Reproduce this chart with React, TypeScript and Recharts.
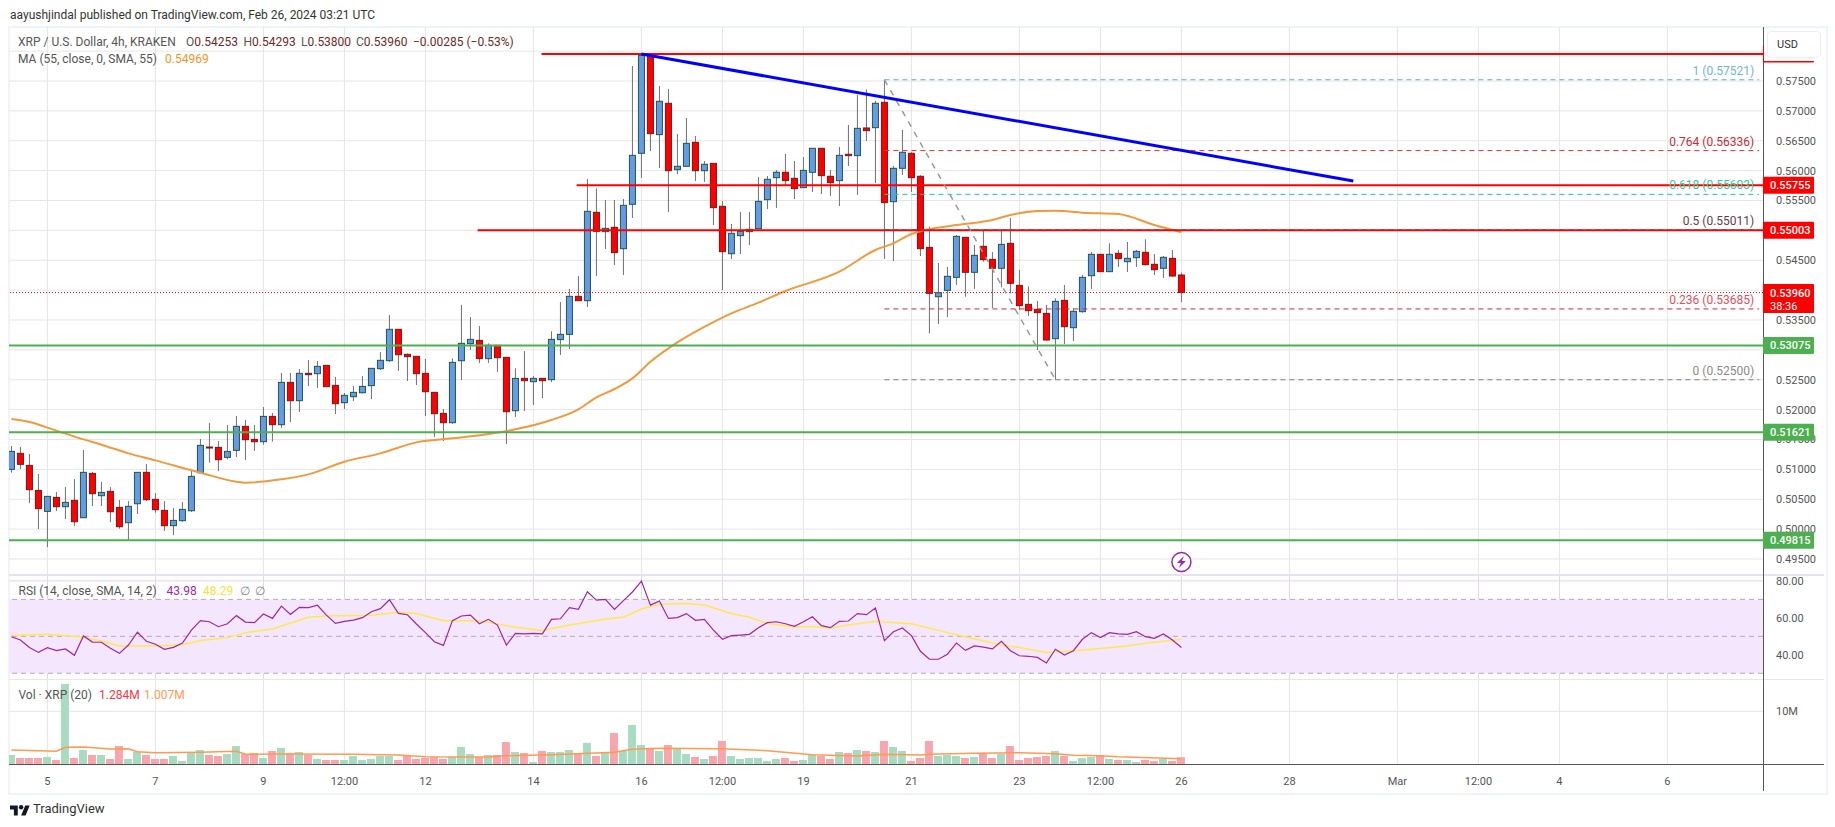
import {
  ComposedChart, Bar, Line, XAxis, YAxis, CartesianGrid,
  ReferenceLine, ReferenceArea, ReferenceDot, Cell,
} from 'recharts'

const opens = [
  0.51000, 0.51268, 0.51067, 0.50648, 0.50297, 0.50531, 0.50375, 0.50481, 0.50191, 0.50933, 0.50559, 0.50632, 0.50364, 0.50107, 0.50425,
  0.50950, 0.50498, 0.50314, 0.50057, 0.50141, 0.50308, 0.50944, 0.51374, 0.51368, 0.51201, 0.51318, 0.51720, 0.51502, 0.51463, 0.51887,
  0.51748, 0.52456, 0.52149, 0.52607, 0.52601, 0.52741, 0.52406, 0.52116, 0.52216, 0.52283, 0.52401, 0.52685, 0.52819, 0.53344, 0.52925,
  0.52892, 0.52607, 0.52289, 0.51937, 0.51781, 0.52819, 0.53104, 0.53159, 0.52853, 0.53076, 0.52875, 0.51982, 0.52523, 0.52467, 0.52523,
  0.52501, 0.53171, 0.53260, 0.53896, 0.53823, 0.55302, 0.54979, 0.55051, 0.54694, 0.55436, 0.56290, 0.57930, 0.56602, 0.57127, 0.56016,
  0.56072, 0.56474, 0.55999, 0.56122, 0.55403, 0.54610, 0.54912, 0.54979, 0.55029, 0.55514, 0.55882, 0.55972, 0.55871, 0.55715, 0.55972,
  0.56374, 0.55905, 0.55832, 0.56273, 0.56251, 0.56714, 0.56719, 0.57144, 0.55481, 0.56039, 0.56290, 0.55905, 0.54716, 0.53890, 0.53996,
  0.54214, 0.54884, 0.54298, 0.54733, 0.54515, 0.54365, 0.54783, 0.54080, 0.53762, 0.53678, 0.53611, 0.53187, 0.53829, 0.53371, 0.53639,
  0.54242, 0.54599, 0.54309, 0.54616, 0.54476, 0.54543, 0.54633, 0.54432, 0.54365, 0.54532, 0.54253,
]
const highs = [
  0.51391, 0.51374, 0.51257, 0.50922, 0.50548, 0.50620, 0.50704, 0.50838, 0.51324, 0.50955, 0.50788, 0.50704, 0.50487, 0.50470, 0.50950,
  0.51089, 0.50604, 0.50470, 0.50353, 0.50453, 0.50983, 0.51508, 0.51776, 0.51474, 0.51742, 0.51893, 0.51826, 0.51742, 0.52043, 0.51943,
  0.52613, 0.52613, 0.52680, 0.52830, 0.52813, 0.52741, 0.52546, 0.52278, 0.52395, 0.52562, 0.52691, 0.52964, 0.53583, 0.53344, 0.52942,
  0.52892, 0.52847, 0.52289, 0.52010, 0.52858, 0.53751, 0.53550, 0.53399, 0.53109, 0.53076, 0.52875, 0.52691, 0.52981, 0.52562, 0.52529,
  0.53310, 0.53801, 0.54019, 0.54236, 0.55860, 0.55704, 0.55509, 0.55509, 0.55525, 0.57752, 0.57953, 0.57953, 0.57417, 0.57367, 0.56613,
  0.56881, 0.56580, 0.56161, 0.56122, 0.55492, 0.55107, 0.55308, 0.55308, 0.55894, 0.55910, 0.56011, 0.56279, 0.56161, 0.56228, 0.56374,
  0.56374, 0.56011, 0.56396, 0.56764, 0.57266, 0.57361, 0.57166, 0.57521, 0.56078, 0.56680, 0.56307, 0.55922, 0.55062, 0.54454, 0.54387,
  0.54923, 0.54889, 0.54755, 0.55006, 0.54638, 0.55006, 0.55207, 0.54337, 0.54063, 0.53818, 0.53751, 0.53862, 0.54086, 0.53695, 0.54253,
  0.54638, 0.54599, 0.54783, 0.54672, 0.54806, 0.54672, 0.54850, 0.54605, 0.54571, 0.54672, 0.54293,
]
const lows = [
  0.50944, 0.51006, 0.50436, 0.50001, 0.49700, 0.50302, 0.50169, 0.50051, 0.50191, 0.50386, 0.50386, 0.50118, 0.50007, 0.49817, 0.50252,
  0.50470, 0.50275, 0.49968, 0.49901, 0.50124, 0.50286, 0.50944, 0.51112, 0.50972, 0.51167, 0.51206, 0.51156, 0.51307, 0.51413, 0.51463,
  0.51692, 0.51792, 0.51960, 0.52395, 0.52361, 0.52384, 0.51926, 0.52010, 0.52144, 0.52272, 0.52177, 0.52663, 0.52802, 0.52646, 0.52479,
  0.52412, 0.51893, 0.51541, 0.51474, 0.51764, 0.52495, 0.52998, 0.52780, 0.52780, 0.52629, 0.51424, 0.51876, 0.51976, 0.52077, 0.52194,
  0.52462, 0.52914, 0.53014, 0.53823, 0.53717, 0.54236, 0.54688, 0.54421, 0.54253, 0.55207, 0.55877, 0.56329, 0.56044, 0.55308, 0.55944,
  0.56072, 0.55827, 0.55810, 0.55090, 0.54002, 0.54521, 0.54605, 0.54755, 0.55029, 0.55358, 0.55375, 0.55760, 0.55525, 0.55715, 0.55643,
  0.55609, 0.55576, 0.55408, 0.56078, 0.55592, 0.56496, 0.55793, 0.54521, 0.54487, 0.55927, 0.55643, 0.54571, 0.53277, 0.53433, 0.53550,
  0.54086, 0.53890, 0.54019, 0.54476, 0.53701, 0.54047, 0.53946, 0.53667, 0.53567, 0.52998, 0.53154, 0.52500, 0.53098, 0.53148, 0.53623,
  0.54019, 0.54309, 0.54309, 0.54387, 0.54303, 0.54387, 0.54415, 0.54253, 0.54203, 0.54220, 0.53800,
]
const closes = [
  0.51301, 0.51084, 0.50660, 0.50342, 0.50548, 0.50375, 0.50448, 0.50124, 0.50950, 0.50593, 0.50615, 0.50291, 0.50040, 0.50381, 0.50950,
  0.50492, 0.50325, 0.50057, 0.50146, 0.50330, 0.50883, 0.51402, 0.51363, 0.51162, 0.51301, 0.51720, 0.51497, 0.51463, 0.51887, 0.51748,
  0.52456, 0.52149, 0.52607, 0.52585, 0.52724, 0.52384, 0.52099, 0.52239, 0.52289, 0.52389, 0.52691, 0.52825, 0.53344, 0.52919, 0.52886,
  0.52601, 0.52300, 0.51932, 0.51781, 0.52791, 0.53109, 0.53176, 0.52853, 0.53076, 0.52869, 0.51965, 0.52523, 0.52484, 0.52523, 0.52484,
  0.53176, 0.53260, 0.53896, 0.53823, 0.55319, 0.54984, 0.55034, 0.54627, 0.55419, 0.56256, 0.57930, 0.56619, 0.57160, 0.55999, 0.56072,
  0.56457, 0.55999, 0.56106, 0.55380, 0.54644, 0.54951, 0.54984, 0.55018, 0.55486, 0.55855, 0.55972, 0.55832, 0.55698, 0.56005, 0.56374,
  0.55916, 0.55799, 0.56256, 0.56251, 0.56708, 0.56669, 0.57127, 0.55464, 0.56039, 0.56307, 0.55882, 0.54694, 0.53946, 0.53957, 0.54231,
  0.54900, 0.54298, 0.54582, 0.54510, 0.54365, 0.54766, 0.54114, 0.53740, 0.53656, 0.53623, 0.53165, 0.53812, 0.53388, 0.53645, 0.54214,
  0.54599, 0.54309, 0.54599, 0.54527, 0.54532, 0.54649, 0.54426, 0.54342, 0.54549, 0.54236, 0.53960,
]

// moving averages are read at a handful of candles, the line joins them
const maAt = [0, 2, 5, 8, 10, 13, 16, 21, 25, 26, 30, 33, 37, 41, 45, 49, 53, 56, 60, 63, 65, 67, 69, 71, 74, 78, 80, 83, 86, 92, 96, 98, 100, 105, 109, 111, 114, 116, 119, 123, 127, 130]
const maValues = [
  0.51843, 0.51792, 0.51647, 0.51502, 0.51413, 0.51268, 0.51151, 0.50944, 0.50794, 0.50777, 0.50833, 0.50916, 0.51128, 0.51268,
  0.51452, 0.51519, 0.51591, 0.51670, 0.51826, 0.52004, 0.52205, 0.52345, 0.52523, 0.52802, 0.53126, 0.53466, 0.53611, 0.53790,
  0.53985, 0.54309, 0.54672, 0.54783, 0.54939, 0.55090, 0.55174, 0.55258, 0.55324, 0.55330, 0.55297, 0.55274, 0.55090, 0.54969,
]

const rsi = [
  49.8, 48.0, 44.0, 41.3, 43.9, 42.3, 43.2, 39.7, 50.2, 46.9, 46.8, 43.5, 40.8, 45.3, 52.2, 47.3, 45.7, 43.0, 44.0, 46.4,
  53.4, 58.5, 57.9, 55.2, 56.8, 61.2, 57.7, 57.4, 62.1, 59.7, 66.4, 61.9, 65.7, 65.5, 66.8, 61.5, 57.0, 58.1, 58.8, 60.1,
  63.3, 65.0, 69.8, 62.4, 61.7, 56.7, 52.0, 47.1, 45.1, 58.5, 61.0, 61.5, 56.8, 59.2, 56.1, 45.3, 51.6, 51.3, 51.6, 51.3,
  59.2, 59.5, 65.5, 64.6, 74.1, 69.6, 70.0, 64.6, 69.3, 74.0, 79.9, 66.9, 69.1, 59.7, 60.1, 62.3, 58.7, 59.2, 53.4, 48.4,
  50.4, 50.7, 51.1, 54.7, 57.4, 57.9, 56.8, 55.4, 57.9, 60.6, 55.8, 54.7, 58.1, 58.3, 62.3, 61.7, 65.3, 47.7, 52.5, 54.5,
  50.4, 41.9, 37.6, 37.6, 40.3, 46.4, 42.4, 44.8, 44.2, 43.2, 47.3, 42.2, 39.5, 39.2, 38.6, 35.6, 43.0, 39.9, 42.2, 48.4,
  52.0, 49.3, 52.0, 51.3, 51.1, 52.5, 49.8, 48.9, 51.3, 48.0, 43.98,
]
const rsiMaAt = [0, 4, 8, 10, 12, 16, 19, 21, 24, 26, 29, 33, 35, 40, 43, 45, 48, 52, 56, 59, 62, 66, 68, 70, 72, 75, 77, 80, 82, 84, 87, 89, 91, 93, 96, 100, 104, 106, 110, 112, 115, 118, 124, 127, 130]
const rsiMaValues = [
  50.4, 51.1, 49.5, 47.5, 44.8, 44.8, 45.5, 47.7, 49.3, 52.0, 54.0, 60.3, 61.0, 61.4, 63.0, 62.4, 58.5, 58.5, 54.9, 53.1, 56.1, 59.4, 60.3,
  64.8, 67.3, 67.8, 66.9, 62.4, 60.3, 57.0, 55.2, 55.2, 54.5, 56.1, 58.1, 56.8, 52.0, 49.8, 45.3, 44.0, 41.3, 42.1, 44.8, 46.9, 48.29,
]

// volume in millions
const volume = [
  1.71, 1.14, 1.14, 1.14, 1.33, 0.76, 15.19, 1.14, 2.66, 1.71, 1.71, 0.95, 3.42, 0.95, 2.34, 1.71, 0.95, 0.95, 1.52, 0.57,
  2.28, 2.66, 1.71, 1.52, 1.90, 3.42, 1.90, 2.09, 1.14, 2.47, 3.04, 2.09, 2.28, 1.71, 0.95, 0.76, 0.76, 0.76, 1.52, 0.76,
  0.95, 1.52, 1.52, 0.76, 1.71, 0.95, 1.14, 1.33, 0.95, 1.33, 3.23, 1.90, 1.33, 1.71, 1.71, 4.18, 2.28, 2.09, 0.38, 2.47,
  2.28, 2.28, 2.66, 1.90, 3.99, 1.52, 2.28, 5.89, 2.47, 7.41, 3.61, 2.85, 2.47, 3.61, 2.85, 1.90, 1.33, 0.95, 1.52, 4.37,
  1.52, 0.95, 1.14, 1.14, 0.57, 0.95, 1.14, 0.57, 0.76, 1.71, 1.52, 0.95, 2.28, 2.09, 2.66, 2.47, 2.28, 4.37, 3.23, 2.47,
  0.57, 1.14, 4.37, 1.52, 1.71, 1.52, 1.14, 1.33, 2.09, 1.14, 1.90, 3.42, 0.76, 1.14, 1.33, 1.52, 2.47, 1.52, 0.57, 1.14,
  1.33, 1.71, 0.95, 0.76, 0.76, 0.38, 0.76, 0.57, 0.95, 0.57, 1.284,
]
const volMaAt = [0, 5, 6, 8, 11, 13, 14, 16, 21, 25, 26, 30, 38, 43, 46, 53, 55, 60, 67, 69, 72, 79, 84, 89, 94, 97, 101, 102, 107, 112, 116, 118, 121, 123, 130]
const volMaValues = [2.66, 2.41, 3.16, 3.23, 2.85, 2.91, 2.34, 2.15, 2.22, 2.41, 1.84, 1.90, 1.84, 1.71, 1.39, 1.33, 1.58, 1.77, 2.22, 2.78, 2.97, 2.91, 2.53, 1.77, 1.52, 1.84, 1.71, 1.84, 2.03, 2.15, 1.96, 1.65, 1.58, 1.39, 1.007]

const timeTicks = [4, 16, 28, 37, 46, 58, 70, 79, 88, 100, 112, 121, 130, 142, 154, 163, 172, 184]
const timeLabels = ['5', '7', '9', '12:00', '12', '14', '16', '12:00', '19', '21', '23', '12:00', '26', '28', 'Mar', '12:00', '4', '6']
const priceGrid = [0.495, 0.5, 0.505, 0.51, 0.515, 0.52, 0.525, 0.53, 0.535, 0.54, 0.545, 0.55, 0.555, 0.56, 0.565, 0.57, 0.575, 0.58]
// the labels at 0.53, 0.54, 0.55 and 0.58 sit fully behind the price tags and the USD button
const priceLabels = [0.495, 0.5, 0.505, 0.51, 0.515, 0.52, 0.525, 0.535, 0.545, 0.555, 0.56, 0.565, 0.57, 0.575]
const rsiTicks = [40, 60, 80]
const rsiBands = [70, 50, 30]

const resistance = [
  { from: 58.9, price: 0.57952 },
  { from: 62.8, price: 0.55755 },
  { from: 51.8, price: 0.55003 },
]
const support = [0.53075, 0.51621, 0.49815]
const fibLevels = [
  { name: '1', price: 0.57521, line: '#64a8d8', text: '#6fb4e0' },
  { name: '0.764', price: 0.56336, line: '#ff2b2b', text: '#c62b3c' },
  { name: '0.618', price: 0.55603, line: '#14d095', text: '#2fc99b' },
  { name: '0.5', price: 0.55011, line: '#7a4a5a', text: '#604050' },
  { name: '0.236', price: 0.53685, line: '#c8283c', text: '#e0505e' },
  { name: '0', price: 0.525, line: '#808080', text: '#8a8a8a' },
]

const FONT = 'Roboto, sans-serif'
const GRID = '#e6e6e6'
const BLUE = '#6699e8'
const RED = '#ff0000'
const GREEN = '#4caf50'
const X_DOMAIN: [number, number] = [-0.27, 194.62]
const PRICE_DOMAIN: [number, number] = [0.49232, 0.58404]

const pick = (at: number[], values: number[], i: number) => {
  const k = at.indexOf(i)
  return k >= 0 ? values[k] : null
}

const rows = opens.map((open, i) => ({
  i,
  open,
  high: highs[i],
  low: lows[i],
  close: closes[i],
  range: [lows[i], highs[i]],
  ma: pick(maAt, maValues, i),
  rsi: rsi[i],
  rsiMa: pick(rsiMaAt, rsiMaValues, i),
  volume: volume[i],
  volMa: pick(volMaAt, volMaValues, i),
}))

function Candle(props: any) {
  const { x, y, width, height, payload } = props
  const d = payload ?? props
  const perUnit = height / (d.high - d.low)
  const up = d.close >= d.open
  const top = y + (d.high - Math.max(d.open, d.close)) * perUnit
  const bodyH = Math.max(Math.abs(d.close - d.open) * perUnit, 1)
  const cx = x + width / 2
  return (
    <g>
      <line x1={cx} x2={cx} y1={y} y2={y + height} stroke="#707070" strokeWidth={1} />
      <rect
        x={x + 0.5} y={top} width={width - 1} height={bodyH}
        fill={up ? BLUE : RED} stroke={up ? '#1d5a40' : '#7c1416'} strokeWidth={1}
      />
    </g>
  )
}

function Tag({ cx, cy, color, text, sub }: any) {
  return (
    <g>
      <rect x={cx} y={cy - 8.5} width={51} height={sub ? 29 : 17} rx={1} fill={color} />
      <text x={cx + 7} y={cy + 4} fill="#fff" fontSize={11} fontWeight={500} fontFamily={FONT}>{text}</text>
      {sub && <text x={cx + 7} y={cy + 17} fill="#fff" fontSize={11} fontFamily={FONT}>{sub}</text>}
    </g>
  )
}

function Bolt({ cx, cy }: any) {
  return (
    <g>
      <circle cx={cx} cy={cy} r={9.5} fill="#fff" stroke="#9c27b0" strokeWidth={1.5} />
      <path d={`M${cx + 2.5} ${cy - 6}L${cx - 4.5} ${cy + 1}H${cx - 0.5}L${cx - 2.5} ${cy + 6}L${cx + 4.5} ${cy - 1}H${cx + 0.5}Z`} fill="#9c27b0" />
    </g>
  )
}

function Price({ x, y, children, color = '#555', size = 12 }: any) {
  return (
    <span style={{ position: 'absolute', left: x, top: y - 8, lineHeight: '16px', fontSize: size, color, whiteSpace: 'nowrap' }}>
      {children}
    </span>
  )
}

const xAxisFormat = (v: number) => timeLabels[timeTicks.indexOf(v)] ?? ''

export default function App() {
  return (
    <div style={{ position: 'absolute', left: 0, top: 0, width: 1835, height: 827, background: '#fff', fontFamily: FONT, overflow: 'hidden' }}>
      <Price x={10} y={15} color="#333">aayushjindal published on TradingView.com, Feb 26, 2024 03:21 UTC</Price>

      {/* outer frame */}
      <div style={{ position: 'absolute', left: 8, top: 26, width: 1816, height: 765, border: '2px solid #f0f3fa' }} />

      <div style={{ position: 'absolute', left: 9, top: 27 }}>
        <ComposedChart width={1817} height={548} data={rows} margin={{ top: 0, right: 0, bottom: 0, left: 0 }}>
          <XAxis dataKey="i" type="number" domain={X_DOMAIN} ticks={timeTicks} allowDataOverflow hide />
          <YAxis
            orientation="right" width={63} domain={PRICE_DOMAIN} ticks={priceLabels} allowDataOverflow
            axisLine={false} tickLine={false} tickMargin={7}
            tick={{ fill: '#555', fontSize: 11, fontFamily: FONT }} tickFormatter={(v: number) => v.toFixed(5)}
          />
          <CartesianGrid stroke={GRID} verticalValues={timeTicks} horizontalValues={priceGrid} />
          <Bar dataKey="range" barSize={7} shape={<Candle />} isAnimationActive={false} />
          <Line dataKey="ma" stroke="#ef9a3e" strokeWidth={2} dot={false} connectNulls type="monotone" isAnimationActive={false} />

          <ReferenceLine y={0.5396} stroke={RED} strokeWidth={1} strokeDasharray="1 2" />
          {support.map(p => <ReferenceLine key={p} y={p} stroke={GREEN} strokeWidth={2} />)}
          {resistance.map(r => (
            <ReferenceLine key={r.price} segment={[{ x: r.from, y: r.price }, { x: X_DOMAIN[1], y: r.price }]} stroke={RED} strokeWidth={2} />
          ))}
          <ReferenceLine segment={[{ x: 97, y: 0.57521 }, { x: 116, y: 0.525 }]} stroke="#999" strokeWidth={1.5} strokeDasharray="6 6" />
          {fibLevels.map(f => (
            <ReferenceLine
              key={f.name}
              segment={[{ x: 97, y: f.price }, { x: 194.2, y: f.price }]}
              stroke={f.line}
              strokeWidth={1}
              strokeDasharray="5 4"
              label={{ value: `${f.name} (${f.price.toFixed(5)})`, position: 'insideBottomRight', offset: 5, fill: f.text, fontSize: 12, fontFamily: FONT }}
            />
          ))}
          <ReferenceLine segment={[{ x: 70, y: 0.57952 }, { x: 149.1, y: 0.55826 }]} stroke="#0000ff" strokeWidth={3} />
          <ReferenceDot x={130} y={0.4945} shape={<Bolt />} ifOverflow="visible" />
        </ComposedChart>
      </div>

      <div style={{ position: 'absolute', left: 9, top: 575 }}>
        <ComposedChart width={1817} height={104} data={rows} margin={{ top: 0, right: 0, bottom: 0, left: 0 }}>
          <XAxis dataKey="i" type="number" domain={X_DOMAIN} ticks={timeTicks} allowDataOverflow hide />
          <YAxis
            orientation="right" width={63} domain={[26.9, 83.2]} ticks={rsiTicks} allowDataOverflow
            axisLine={false} tickLine={false} tickMargin={7}
            tick={{ fill: '#555', fontSize: 11, fontFamily: FONT }} tickFormatter={(v: number) => v.toFixed(2)}
          />
          <ReferenceArea y1={30} y2={70} fill="#f4e6fd" fillOpacity={1} stroke="none" />
          <CartesianGrid stroke="#e2d6ea" verticalValues={timeTicks} horizontalValues={rsiTicks} />
          {rsiBands.map(b => <ReferenceLine key={b} y={b} stroke="#b8a8c2" strokeDasharray="5 4" />)}
          <Line dataKey="rsiMa" stroke="#ffe94d" strokeWidth={1.5} dot={false} connectNulls isAnimationActive={false} />
          <Line dataKey="rsi" stroke="#9c27a0" strokeWidth={1.2} dot={false} isAnimationActive={false} />
        </ComposedChart>
      </div>

      <div style={{ position: 'absolute', left: 9, top: 679 }}>
        <ComposedChart width={1817} height={113} data={rows} margin={{ top: 0, right: 0, bottom: 0, left: 0 }}>
          <XAxis
            dataKey="i" type="number" domain={X_DOMAIN} ticks={timeTicks} allowDataOverflow interval={0} height={28}
            axisLine={false} tickLine={false} tickMargin={7}
            tick={{ fill: '#555', fontSize: 11, fontFamily: FONT }} tickFormatter={xAxisFormat}
          />
          <YAxis
            orientation="right" width={63} domain={[0, 16.13]} ticks={[10]} allowDataOverflow
            axisLine={false} tickLine={false} tickMargin={7}
            tick={{ fill: '#555', fontSize: 11, fontFamily: FONT }} tickFormatter={(v: number) => `${v}M`}
          />
          <CartesianGrid stroke={GRID} verticalValues={timeTicks} horizontalValues={[10]} />
          <Bar dataKey="volume" barSize={8} isAnimationActive={false}>
            {rows.map(r => <Cell key={r.i} fill={r.close >= r.open ? '#a8dbc2' : '#f6a6ac'} />)}
          </Bar>
          <Line dataKey="volMa" stroke="#ff9a50" strokeWidth={1.5} dot={false} connectNulls isAnimationActive={false} />
        </ComposedChart>
      </div>

      {/* pane separators and axis borders */}
      <div style={{ position: 'absolute', left: 9, top: 574, width: 1815, height: 2, background: '#e6e3ee' }} />
      <div style={{ position: 'absolute', left: 9, top: 679, width: 1815, height: 1, background: '#e6e6ea' }} />
      <div style={{ position: 'absolute', left: 9, top: 764, width: 1815, height: 1, background: '#555' }} />
      <div style={{ position: 'absolute', left: 1763, top: 27, width: 1, height: 764, background: '#555' }} />

      {/* price tags on their own layer so they cover the axis labels, as in the reference */}
      <div style={{ position: 'absolute', left: 9, top: 27, pointerEvents: 'none' }}>
        <ComposedChart width={1817} height={548} data={rows} margin={{ top: 0, right: 63, bottom: 0, left: 0 }}>
          <XAxis dataKey="i" type="number" domain={X_DOMAIN} allowDataOverflow hide />
          <YAxis domain={PRICE_DOMAIN} allowDataOverflow hide />
          {resistance.map(r => (
            <ReferenceDot key={r.price} x={X_DOMAIN[1]} y={r.price} ifOverflow="visible" shape={<Tag color={RED} text={r.price.toFixed(5)} />} />
          ))}
          <ReferenceDot x={X_DOMAIN[1]} y={0.5396} ifOverflow="visible" shape={<Tag color={RED} text="0.53960" sub="38:36" />} />
          {support.map(p => (
            <ReferenceDot key={p} x={X_DOMAIN[1]} y={p} ifOverflow="visible" shape={<Tag color={GREEN} text={p.toFixed(5)} />} />
          ))}
        </ComposedChart>
      </div>

      {/* USD button */}
      <div style={{ position: 'absolute', left: 1764, top: 28, width: 60, height: 33, background: '#fff' }} />
      <div style={{ position: 'absolute', left: 1767, top: 31, width: 43, height: 25, border: '1px solid #eceef4', borderRadius: 4, lineHeight: '25px', fontSize: 11, color: '#333', paddingLeft: 9 }}>USD</div>

      {/* legends */}
      <Price x={18} y={42}>XRP / U.S. Dollar, 4h, KRAKEN</Price>
      <Price x={186} y={42} color="#6e2a2a"><span style={{ color: '#555' }}>O</span>0.54253</Price>
      <Price x={243.5} y={42} color="#6e2a2a"><span style={{ color: '#555' }}>H</span>0.54293</Price>
      <Price x={301} y={42} color="#6e2a2a"><span style={{ color: '#555' }}>L</span>0.53800</Price>
      <Price x={356} y={42} color="#6e2a2a"><span style={{ color: '#555' }}>C</span>0.53960</Price>
      <Price x={413} y={42} color="#6e2a2a">−0.00285 (−0.53%)</Price>
      <Price x={18} y={59}>MA (55, close, 0, SMA, 55)</Price>
      <Price x={165} y={59} color="#f7931e">0.54969</Price>
      <Price x={18.5} y={591}>RSI (14, close, SMA, 14, 2)</Price>
      <Price x={166.5} y={591} color="#9c27b0">43.98</Price>
      <Price x={203} y={591} color="#f5e23c">48.29</Price>
      <Price x={240} y={591} color="#888">∅</Price>
      <Price x={255} y={591} color="#888">∅</Price>
      <Price x={18.5} y={695}>Vol · XRP (20)</Price>
      <Price x={99} y={695} color="#f23645">1.284M</Price>
      <Price x={144} y={695} color="#ff9a50">1.007M</Price>

      {/* footer logo */}
      <svg style={{ position: 'absolute', left: 10, top: 803 }} width={20} height={13} viewBox="0 0 36 22">
        <path d="M14 22H7V11H0V4h14v18zM28 22h-8l7.5-18h8L28 22z" fill="#131722" />
        <circle cx={20} cy={7} r={4} fill="#131722" />
      </svg>
      <Price x={33} y={809} color="#333" size={13}>TradingView</Price>
    </div>
  )
}
